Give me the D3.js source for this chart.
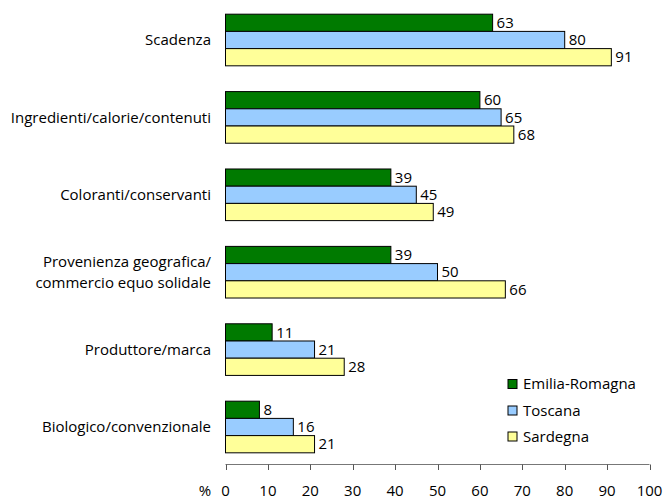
<!DOCTYPE html>
<html><head><meta charset="utf-8">
<script src="https://cdn.jsdelivr.net/npm/d3@7"></script>
<style>body{margin:0;background:#fff}svg{display:block}text{font-family:"Open Sans",sans-serif;fill:#000}</style>
</head><body><svg id="c" width="665" height="499"></svg>
<script>
const categories = ["Scadenza","Ingredienti/calorie/contenuti","Coloranti/conservanti","Provenienza geografica/\ncommercio equo solidale","Produttore/marca","Biologico/convenzionale"];
const series = ["Emilia-Romagna","Toscana","Sardegna"];
const emiliaRomagna = [63,60,39,39,11,8];
const toscana = [80,65,45,50,21,16];
const sardegna = [91,68,49,66,28,21];
const xTicks = [0,10,20,30,40,50,60,70,80,90,100];
const colors = ["#007A00","#99CCFF","#FFFF99"];
const values = [emiliaRomagna, toscana, sardegna];

const svg = d3.select("#c");
const x = d3.scaleLinear().domain([0,100]).range([225.5,649.5]);
const y = d3.scaleBand().domain(categories).range([1.3,465.7]).paddingInner(0.333).paddingOuter(0.1665);
const ys = d3.scaleBand().domain(series).range([0,y.bandwidth()]);
const fs = 15;

categories.forEach((c,i)=>{
  const g = svg.append("g").attr("transform",`translate(0,${y(c)})`);
  series.forEach((s,j)=>{
    const v = values[j][i];
    g.append("rect").attr("x",x(0)).attr("y",ys(s)).attr("width",x(v)-x(0)).attr("height",ys.bandwidth())
      .attr("fill",colors[j]).attr("stroke","#000").attr("stroke-width",1);
    g.append("text").attr("x",x(v)+4).attr("y",ys(s)+ys.bandwidth()/2).attr("dy","0.35em")
      .attr("font-size",fs).text(v);
  });
  const lines = c.split("\n");
  const t = svg.append("text").attr("text-anchor","end").attr("font-size",fs)
    .attr("x",211).attr("y",y(c)+y.bandwidth()/2);
  lines.forEach((l,k)=>{
    t.append("tspan").attr("x",211).attr("dy", k===0 ? ((0.35-(lines.length-1)*0.7)+"em") : "1.4em").text(l);
  });
});

const ax = svg.append("g");
ax.append("line").attr("x1",x(0)).attr("x2",x(100)).attr("y1",464.5).attr("y2",464.5).attr("stroke","#777");
xTicks.forEach(t=>{
  ax.append("line").attr("x1",Math.round(x(t))+0.5).attr("x2",Math.round(x(t))+0.5).attr("y1",464.5).attr("y2",470).attr("stroke","#555");
  ax.append("text").attr("x",x(t)).attr("y",491).attr("dy","0.35em").attr("text-anchor","middle").attr("font-size",fs).text(t);
});
svg.append("text").attr("x",205).attr("y",491).attr("dy","0.35em").attr("text-anchor","middle").attr("font-size",fs).text("%");

const legY = [384,410.5,436.5];
series.forEach((s,j)=>{
  svg.append("rect").attr("x",508).attr("y",legY[j]-4.5).attr("width",9).attr("height",9)
    .attr("fill",colors[j]).attr("stroke","#000");
  svg.append("text").attr("x",523).attr("y",legY[j]).attr("dy","0.35em").attr("font-size",fs).text(s);
});
</script></body></html>
